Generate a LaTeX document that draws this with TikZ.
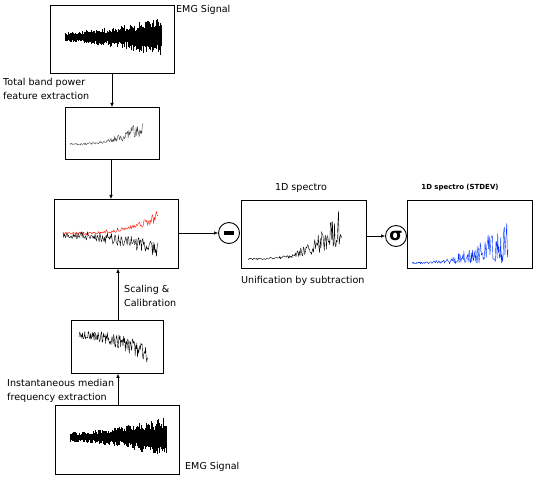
\documentclass[tikz,border=0pt]{standalone}
\usepackage{amsmath,amssymb}
\usepackage{fontspec}
\setmainfont{DejaVu Sans}
\usetikzlibrary{positioning, arrows.meta, calc}

\begin{document}
\begin{tikzpicture}[x=1bp, y=-1bp,
        % panels holding the signal plots
        panel/.style={
            draw,
            line width=0.8pt,
            inner sep=0pt,
            anchor=north west
        },
        lbl/.style={font=\fontsize{9.6}{14.5}\selectfont, align=left, inner sep=0pt},
        op/.style={draw, circle, line width=0.9pt, minimum size=21bp, inner sep=0pt},
        flow/.style={-{Latex[length=4bp,width=3.5bp]}, line width=0.6pt},
        trace/.style={line width=0.4pt, line join=round}
    ]
    \useasboundingbox (0,0) rectangle (536,477);
    \pgfmathsetseed{7}

    % ==========================================
    % LEFT COLUMN
    % ==========================================
    \node[panel, minimum width=124bp, minimum height=68bp] (emgA) at (50,5) {};
    \node[panel, minimum width=94bp, minimum height=52bp] (tbp) at (65,107) {};
    \node[panel, minimum width=124bp, minimum height=69bp] (comb) at (54,199) {};
    \node[panel, minimum width=92bp, minimum height=53bp] (imf) at (71,320) {};
    \node[panel, minimum width=124bp, minimum height=69bp] (emgB) at (55,405) {};

    % Labels
    \node[lbl, anchor=west] (lemgA) at (176,10) {EMG Signal};
    \node[lbl, anchor=north west] (ltbp) at (3,78) {Total band power\\feature extraction};
    \node[lbl, anchor=north west] (lscal) at (124,285) {Scaling \&\\Calibration};
    \node[lbl, anchor=north west] (limf) at (7,379) {Instantaneous median\\frequency extraction};
    \node[lbl, anchor=west] (lemgB) at (185,467) {EMG Signal};

    % EMG bursts
    \foreach \i in {0,...,240}{
        \pgfmathsetmacro\aa{5+15*(\i/240)^1.5}
        \pgfmathsetmacro\up{\aa*(0.4+0.6*rnd^2)}
        \pgfmathsetmacro\dn{\aa*(0.4+0.6*rnd^2)}
        \draw[line width=0.5pt] ({65+\i*0.4},{37-\up}) -- ({65+\i*0.4},{37+\dn});
        \pgfmathsetmacro\up{\aa*(0.4+0.6*rnd^2)}
        \pgfmathsetmacro\dn{\aa*(0.4+0.6*rnd^2)}
        \draw[line width=0.5pt] ({70+\i*0.4},{437-\up}) -- ({70+\i*0.4},{437+\dn});
    }

    % Band power trace
    \draw[trace, black!75] plot[domain=0:1, samples=120]
        ({70+73*\x}, {145-30*\x^3*(0.3+0.7*rnd)-2*rnd});

    % Combined traces
    \draw[trace, red!85!orange] plot[domain=0:1, samples=130]
        ({63+95*\x}, {235-24*\x^3*(0.45+0.55*rnd)-3*rnd});
    \draw[trace, black] plot[domain=0:1, samples=140]
        ({63+95*\x}, {235+15*\x^2+(rnd-0.5)*10*(0.6+\x)});

    % Median frequency trace
    \draw[trace, black] plot[domain=0:1, samples=120]
        ({79+69*\x}, {335+20*\x^2+(rnd-0.5)*12*(0.6+\x)});

    % Arrows of the left column
    \draw[flow] (emgA.south -| 112,0) -- (tbp.north -| 112,0);
    \draw[flow] (tbp.south -| 111,0) -- (comb.north -| 111,0);
    \draw[flow] (imf.north -| 118,0) -- (comb.south -| 118,0);
    \draw[flow] (emgB.north -| 118,0) -- (imf.south -| 118,0);

    % ==========================================
    % RIGHT PART
    % ==========================================
    \node[op] (minus) at (229,233) {\rule{10bp}{3.5bp}};
    \node[op] (sig) at (396,236) {\fontsize{17}{17}\selectfont\bfseries σ};
    \node[panel, minimum width=125bp, minimum height=68bp] (spec) at (241,200) {};
    \node[panel, minimum width=125bp, minimum height=68bp] (std) at (407,200) {};

    \node[lbl] (lspec) at (301,188) {1D spectro};
    \node[lbl, font=\fontsize{7}{8}\selectfont\bfseries] (lstd) at (460,188) {1D spectro (STDEV)};
    \node[lbl, anchor=north west] (lunif) at (241,276) {Unification by subtraction};

    % Spectro traces
    \draw[trace, black] plot[domain=0:1, samples=140]
        ({248+94*\x}, {260-58*\x^3*(0.25+0.75*rnd)-2*rnd});
    \draw[trace, blue!80!cyan] plot[domain=0:1, samples=160]
        ({412+96*\x}, {264-55*\x^2.5*rnd^1.5-2*rnd});

    \draw[flow] (comb.east |- minus) -- (minus.west);
    \draw[flow] (spec.east |- sig) -- (sig.west);
\end{tikzpicture}
\end{document}
